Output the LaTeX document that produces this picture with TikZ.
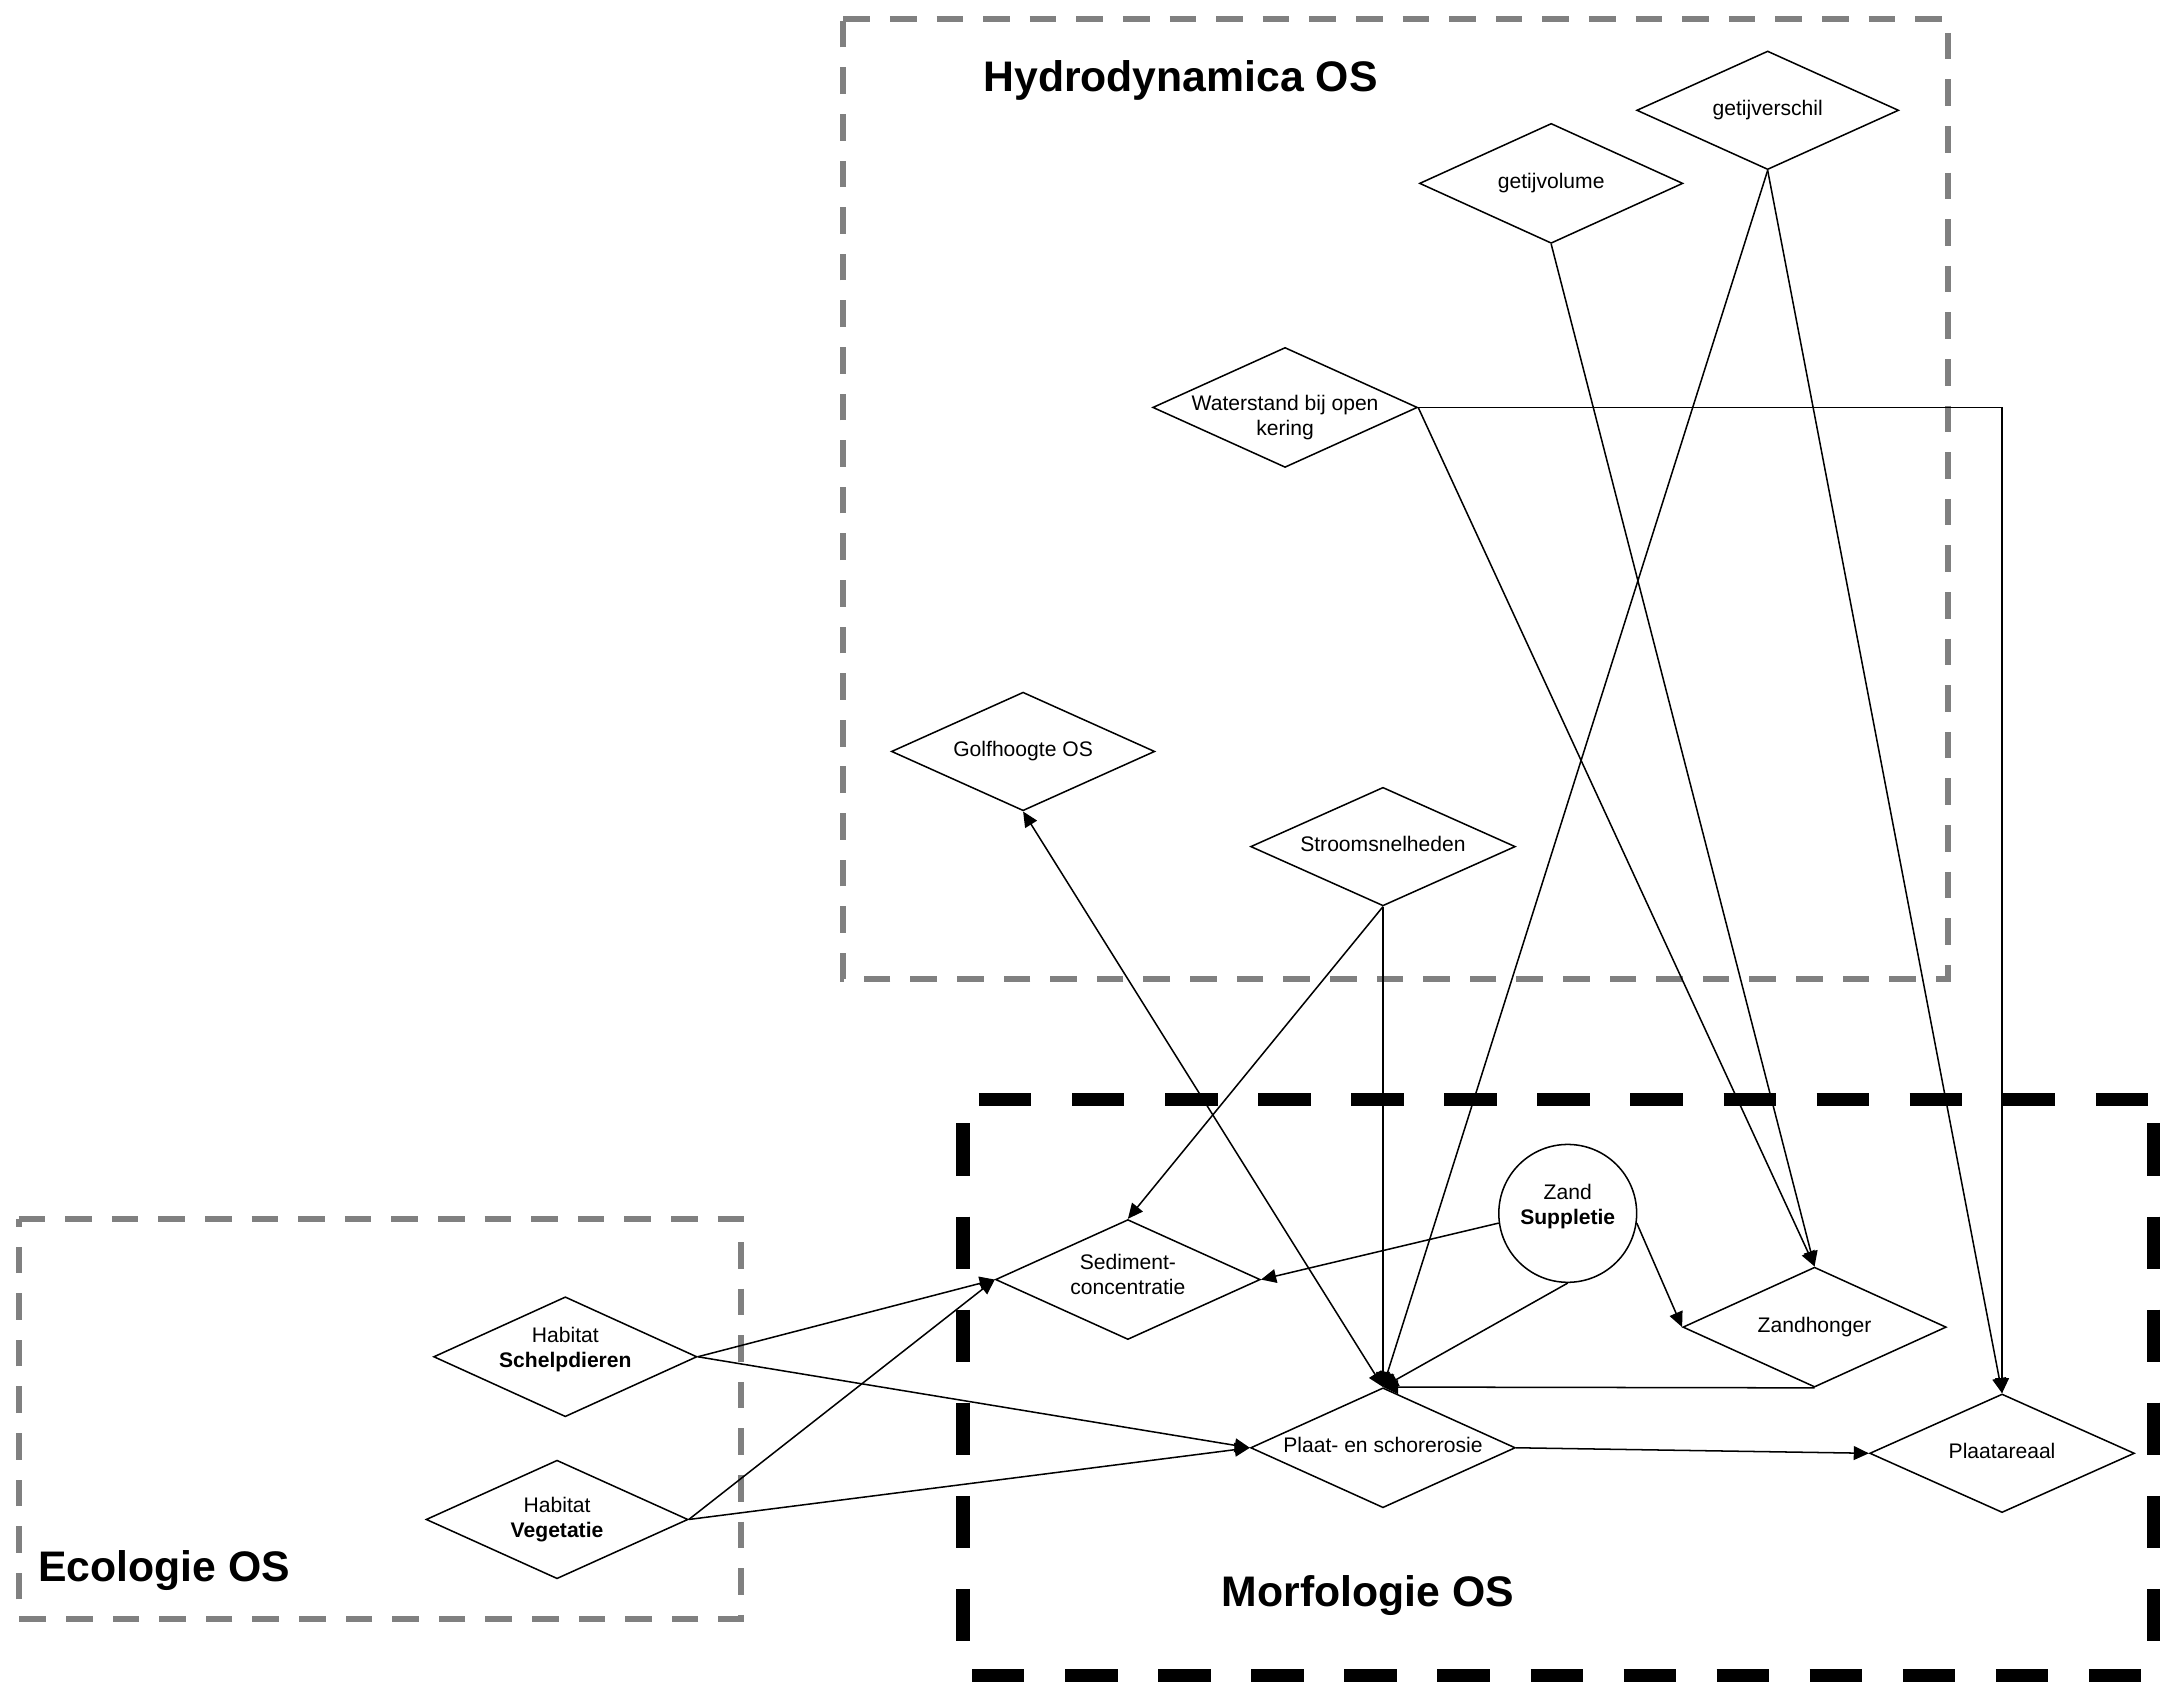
\documentclass[tikz,border=0pt]{standalone}
\usepackage{fontspec}
\setmainfont{Liberation Sans}
\usetikzlibrary{shapes.geometric,arrows.meta}
\definecolor{boxgray}{HTML}{808080}
\begin{document}
\begin{tikzpicture}[x=1pt,y=-1pt,
  dia/.style={diamond,draw,line width=1.1pt,inner sep=0pt,minimum width=191pt,minimum height=87pt},
  lbl/.style={font=\fontsize{15.3}{18.1}\selectfont,align=center,inner sep=0pt},
  lbl1/.style={lbl,text height=0.72em,text depth=0pt},
  tip/.tip={Triangle[length=11pt,width=10pt]},
  conn/.style={line width=1.1pt,-tip},
  grpgray/.style={draw=boxgray,line width=4.35pt,dash pattern=on 19.3pt off 14.5pt},
  grpblack/.style={draw=black,line width=9.7pt,dash pattern=on 38pt off 29.5pt},
  title/.style={font=\fontsize{31}{36}\selectfont\bfseries,inner sep=0pt,anchor=base west}]

\useasboundingbox (0,0) rectangle (1568,1222);

% group frames
\draw[grpgray] (611.6,14) -- (1413,14) -- (1413,710) -- (611.6,710) -- cycle;
\draw[grpgray] (13.5,884) -- (537.5,884) -- (537.5,1174) -- (13.5,1174) -- cycle;
\draw[grpblack,dash phase=56pt] (698.5,797.3) -- (1566,797.3);
\draw[grpblack,dash phase=50pt] (698.5,797.3) -- (698.5,1215);
\draw[grpblack,dash phase=50pt] (1561.6,797.3) -- (1561.6,1215);
\draw[grpblack,dash phase=61pt] (698.5,1215) -- (1566,1215);

% titles
\node[title] (hydT) at (713,66.5) {Hydrodynamica OS};
\node[title] (morT) at (886,1165) {Morfologie OS};
\node[title] (ecoT) at (27.6,1147) {Ecologie OS};

% variables
\node[dia,minimum width=190pt,minimum height=86pt] (gvs) at (1282,80) {};
\node[dia] (gvl) at (1125,133) {};
\node[dia,minimum width=192pt] (wat) at (932,295.5) {};
\node[dia,minimum height=86pt] (golf) at (742,545) {};
\node[dia,minimum width=192pt,minimum height=86pt] (stroom) at (1003,614) {};
\node[dia,minimum width=192pt] (sed) at (818,928) {};
\node[dia] (zh) at (1316,962.5) {};
\node[dia,minimum width=192pt] (pe) at (1003,1050) {};
\node[dia,minimum width=192pt,minimum height=86pt] (area) at (1452,1054) {};
\node[dia] (sch) at (410,984) {};
\node[dia,minimum width=190pt,minimum height=86pt] (veg) at (404,1102) {};
\node[circle,draw,line width=1.1pt,minimum size=100pt,inner sep=0pt] (zs) at (1137,880) {};

% labels
\node[lbl1] (gvsT) at (gvs) {getijverschil};
\node[lbl1] (gvlT) at (gvl) {getijvolume};
\node[lbl] (watT) at (932,303) {Waterstand bij open\\kering};
\node[lbl1] (golfT) at (golf) {Golfhoogte OS};
\node[lbl1] (stroomT) at (stroom) {Stroomsnelheden};
\node[lbl] (sedT) at (818,924.5) {Sediment-\\concentratie};
\node[lbl1] (zhT) at (zh) {Zandhonger};
\node[lbl1] (peT) at (pe) {Plaat- en schorerosie};
\node[lbl1] (areaT) at (area) {Plaatareaal};
\node[lbl] (schT) at (410,979) {Habitat\\\textbf{Schelpdieren}};
\node[lbl] (vegT) at (404,1102) {Habitat\\\textbf{Vegetatie}};
\node[lbl] (zsT) at (1137,875) {Zand\\\textbf{Suppletie}};

% relations
\draw[conn] (wat.east) -| (area.north);
\draw[conn] (wat.east) -- (zh.north);
\draw[conn] (gvl.south) -- (zh.north);
\draw[conn] (gvs.south) -- (pe.north);
\draw[conn] (gvs.south) -- (area.north);
\draw[conn,tip-tip] (golf.south) -- (pe.north);
\draw[conn] (stroom.south) -- (sed.north);
\draw[conn] (stroom.south) -- (pe.north);
\draw[conn] (zs.188) -- (sed.east);
\draw[conn] (zs.south) -- (pe.north);
\draw[conn] (zs.-8) -- (zh.west);
\draw[conn] (zh.south) -- (pe.north);
\draw[conn] (pe.east) -- (area.west);
\draw[conn] (sch.east) -- (sed.west);
\draw[conn] (sch.east) -- (pe.west);
\draw[conn] (veg.east) -- (sed.west);
\draw[conn] (veg.east) -- (pe.west);
\end{tikzpicture}
\end{document}
